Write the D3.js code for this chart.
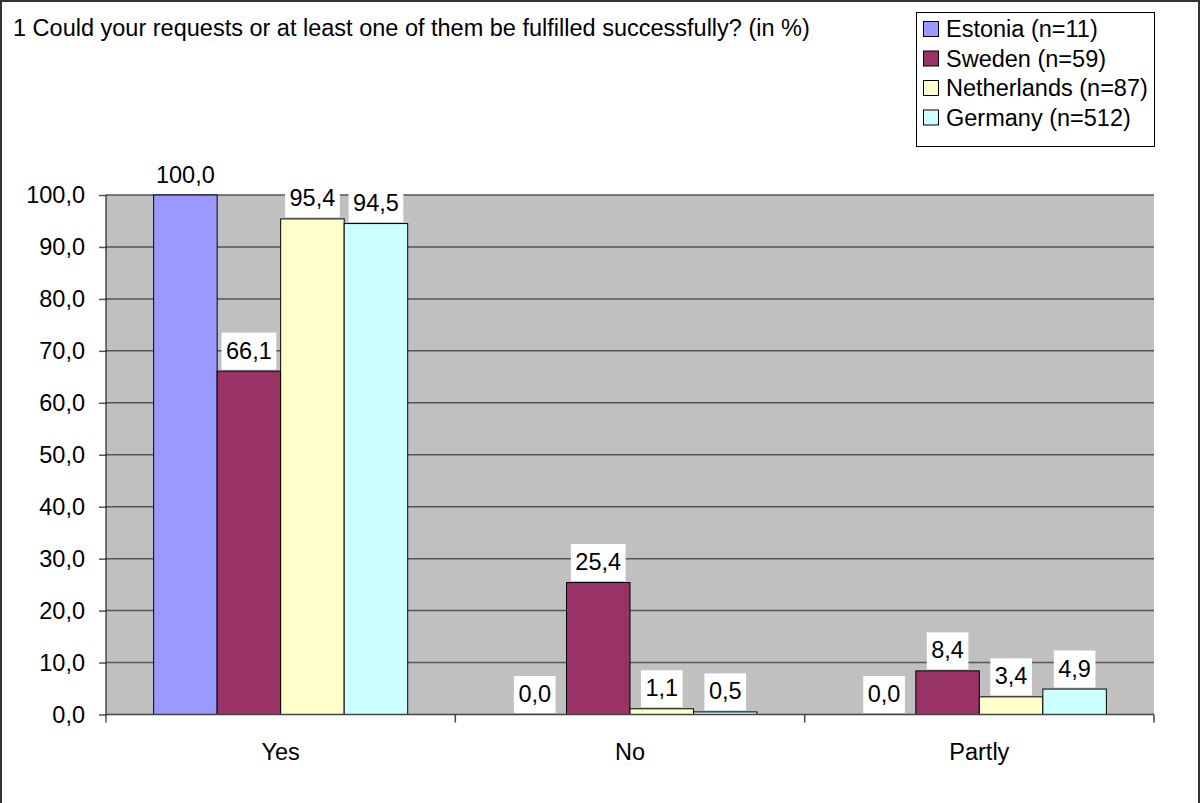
<!DOCTYPE html>
<html>
<head>
<meta charset="utf-8">
<title>Requests fulfilled</title>
<style>
  body { margin: 0; background: #fff; }
  text { font-family: Arial, "Liberation Sans", sans-serif; fill: #000; }
</style>
</head>
<body>
<script src="https://cdn.jsdelivr.net/npm/d3@7"></script>
<script>
var categories = ["Yes", "No", "Partly"];
var series = ["Estonia (n=11)", "Sweden (n=59)", "Netherlands (n=87)", "Germany (n=512)"];
var estonia = [100.0, 0.0, 0.0];
var sweden = [66.1, 25.4, 8.4];
var netherlands = [95.4, 1.1, 3.4];
var germany = [94.5, 0.5, 4.9];
var yTicks = [0, 10, 20, 30, 40, 50, 60, 70, 80, 90, 100];
var colors = ["#9999ff", "#993366", "#ffffcc", "#ccffff"];
var title = "1 Could your requests or at least one of them be fulfilled successfully? (in %)";

var values = [estonia, sweden, netherlands, germany];
var w = 1201, h = 803;
var plot = {left: 106, right: 1154, top: 195, bottom: 714.5};
var fs = 23.5;

var fmt = function(v) { return d3.format(".1f")(v).replace(".", ","); };

var svg = d3.select("body").append("svg").attr("width", w).attr("height", h);

// outer frame
svg.append("rect")
  .attr("x", 1).attr("y", 1).attr("width", 1198).attr("height", 810)
  .attr("fill", "#fff").attr("stroke", "#333").attr("stroke-width", 2);

var x0 = d3.scaleBand().domain(categories).range([plot.left, plot.right]);
var x1 = d3.scaleBand().domain(series).range([0, x0.bandwidth()]).paddingOuter(0.75);
var y = d3.scaleLinear().domain([0, 100]).range([plot.bottom, plot.top]);

// plot background
svg.append("rect")
  .attr("x", plot.left).attr("y", plot.top)
  .attr("width", plot.right - plot.left).attr("height", plot.bottom - plot.top)
  .attr("fill", "#c0c0c0");

// gridlines
svg.append("g").selectAll("line")
  .data(yTicks.filter(function(d){ return d > 0; }))
  .enter().append("line")
  .attr("x1", plot.left).attr("x2", plot.right)
  .attr("y1", function(d){ return y(d); }).attr("y2", function(d){ return y(d); })
  .attr("stroke", "#555").attr("stroke-width", 1.5);

// y axis
var yAxis = svg.append("g")
  .attr("transform", "translate(" + plot.left + ",0)")
  .call(d3.axisLeft(y).tickValues(yTicks).tickSize(7).tickPadding(14).tickFormat(fmt));
yAxis.select(".domain").remove();
yAxis.selectAll(".tick line").attr("stroke", "#555").attr("stroke-width", 1.5);
yAxis.selectAll("text").style("font-size", fs + "px").attr("fill", "#000");

svg.append("line")
  .attr("x1", plot.left).attr("x2", plot.left)
  .attr("y1", plot.top).attr("y2", plot.bottom + 8)
  .attr("stroke", "#000").attr("stroke-width", 1);

// bars
var groups = svg.append("g").selectAll("g")
  .data(categories)
  .enter().append("g")
  .attr("transform", function(d){ return "translate(" + x0(d) + ",0)"; });

groups.selectAll("rect")
  .data(function(c, ci){ return series.map(function(s, si){ return {s: s, si: si, v: values[si][ci]}; }); })
  .enter().append("rect")
  .filter(function(d){ return d.v > 0; })
  .attr("x", function(d){ return x1(d.s); })
  .attr("y", function(d){ return y(d.v); })
  .attr("width", x1.bandwidth())
  .attr("height", function(d){ return y(0) - y(d.v); })
  .attr("fill", function(d){ return colors[d.si]; })
  .attr("stroke", "#000").attr("stroke-width", 1);

// x axis line and category ticks
svg.append("line")
  .attr("x1", plot.left).attr("x2", plot.right)
  .attr("y1", plot.bottom).attr("y2", plot.bottom)
  .attr("stroke", "#444").attr("stroke-width", 1.5);

var bounds = categories.map(function(c){ return x0(c); }).concat([plot.right]);
svg.append("g").selectAll("line")
  .data(bounds.slice(1))
  .enter().append("line")
  .attr("x1", function(d){ return d; }).attr("x2", function(d){ return d; })
  .attr("y1", plot.bottom).attr("y2", plot.bottom + 8)
  .attr("stroke", "#444").attr("stroke-width", 1.5);

svg.append("g").selectAll("text")
  .data(categories)
  .enter().append("text")
  .attr("x", function(d){ return x0(d) + x0.bandwidth() / 2; })
  .attr("y", 760)
  .attr("text-anchor", "middle")
  .style("font-size", fs + "px")
  .text(function(d){ return d; });

// data labels with white boxes
var labels = groups.selectAll("g.lbl")
  .data(function(c, ci){ return series.map(function(s, si){ return {s: s, si: si, v: values[si][ci]}; }); })
  .enter().append("g").attr("class", "lbl");

labels.each(function(d){
  var g = d3.select(this);
  var cx = x1(d.s) + x1.bandwidth() / 2;
  var bottom = y(d.v) - 1.5;
  var box = g.append("rect").attr("fill", "#fff");
  var t = g.append("text")
    .attr("x", cx).attr("y", bottom - 11)
    .attr("text-anchor", "middle")
    .style("font-size", fs + "px")
    .text(fmt(d.v));
  var tw = t.node().getComputedTextLength();
  box.attr("x", cx - tw / 2 - 4.5).attr("y", bottom - 37)
    .attr("width", tw + 9).attr("height", 37);
});

// title
svg.append("text")
  .attr("x", 13).attr("y", 36)
  .style("font-size", fs + "px")
  .text(title);

// legend
var legend = svg.append("g");
legend.append("rect")
  .attr("x", 916.5).attr("y", 12.5).attr("width", 238).attr("height", 134)
  .attr("fill", "#fff").attr("stroke", "#000").attr("stroke-width", 1);

var items = legend.selectAll("g.item")
  .data(series)
  .enter().append("g").attr("class", "item")
  .attr("transform", function(d, i){ return "translate(0," + (37 + i * 29.5) + ")"; });

items.append("rect")
  .attr("x", 923.5).attr("y", -15.5).attr("width", 15).attr("height", 15)
  .attr("fill", function(d, i){ return colors[i]; })
  .attr("stroke", "#000").attr("stroke-width", 1);

items.append("text")
  .attr("x", 946).attr("y", 0)
  .style("font-size", fs + "px")
  .text(function(d){ return d; });
</script>
</body>
</html>
